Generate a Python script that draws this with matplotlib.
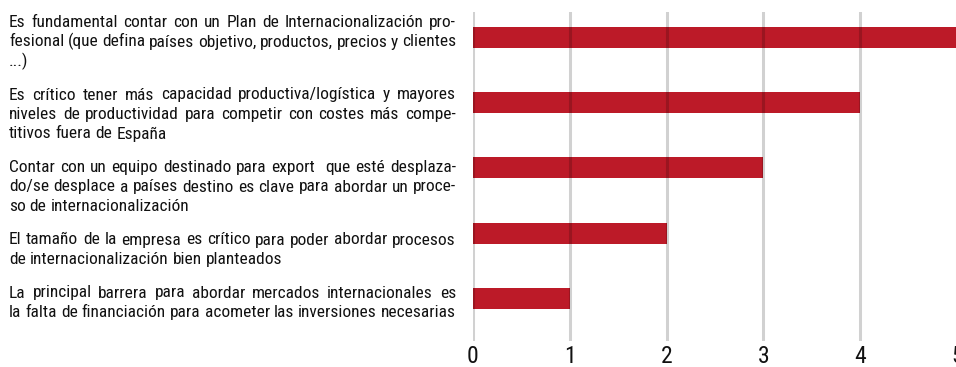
import matplotlib
matplotlib.use("Agg")
import matplotlib.pyplot as plt
from matplotlib import font_manager
from matplotlib.font_manager import FontProperties

# Statements (already broken into lines, hyphenated as printed) and their scores
statements = [
    ["Es fundamental contar con un Plan de Internacionalización pro-",
     "fesional (que defina países objetivo, productos, precios y clientes",
     "...)"],
    ["Es crítico tener más capacidad productiva/logística y mayores",
     "niveles de productividad para competir con costes más compe-",
     "titivos fuera de España"],
    ["Contar con un equipo destinado para export  que esté desplaza-",
     "do/se desplace a países destino es clave para abordar un proce-",
     "so de internacionalización"],
    ["El tamaño de la empresa es crítico para poder abordar procesos",
     "de internacionalización bien planteados"],
    ["La principal barrera para abordar mercados internacionales es",
     "la falta de financiación para acometer las inversiones necesarias"],
]
scores = [5, 4, 3, 2, 1]
x_ticks = [0, 1, 2, 3, 4, 5]

BAR_COLOR = "#BC1A28"
W, H = 956, 367

installed = {f.name for f in font_manager.fontManager.ttflist}
FONT = "DejaVu Sans"
for cand in ["Liberation Sans Narrow", "Roboto Condensed", "Arial Narrow", "Roboto"]:
    if cand in installed:
        FONT = cand
        break

fig = plt.figure(figsize=(W / 100, H / 100), dpi=100)
fig.patch.set_facecolor("white")

# plot area in pixels: left 473, right 957, top 12, bottom 341
ax = fig.add_axes([473 / W, (H - 341) / H, (957 - 473) / W, (341 - 12) / H])
ypos = list(range(len(scores)))
ax.barh(ypos, scores, height=0.32, color=BAR_COLOR, zorder=1)
ax.set_ylim(4.655, -0.39)
ax.set_xlim(0, 5)
ax.set_yticks([])
ax.set_xticks(x_ticks)
ax.set_xticklabels([str(t) for t in x_ticks], fontfamily=FONT, fontsize=17)
ax.tick_params(axis="x", length=0, pad=3, labelcolor="#111111")
ax.grid(axis="x", color="black", alpha=0.18, linewidth=2.2)
ax.set_axisbelow(False)
for s in ax.spines.values():
    s.set_visible(False)

# justified paragraph text on the left
renderer = fig.canvas.get_renderer()
prop = FontProperties(family=FONT, size=12.5)
space_w = None

left, right = 9.0, 456.0
line_step = 19.5
para_gap = 14.0
baseline = 27.0
for para in statements:
    for k, line in enumerate(para):
        y = (H - baseline) / H
        words = line.split(" ")
        texts = [fig.text(0, y, w, fontproperties=prop, color="#111111",
                          ha="left", va="baseline") for w in words]
        widths = [t.get_window_extent(renderer).width if w else 0.0
                  for t, w in zip(texts, words)]
        if space_w is None:
            probe = fig.text(0, 0, "a a", fontproperties=prop)
            probe2 = fig.text(0, 0, "aa", fontproperties=prop)
            space_w = (probe.get_window_extent(renderer).width
                       - probe2.get_window_extent(renderer).width)
            probe.remove()
            probe2.remove()
        last = k == len(para) - 1
        if last or len(words) == 1:
            gap = space_w
        else:
            gap = (right - left - sum(widths)) / (len(words) - 1)
        x = left
        for t, wd in zip(texts, widths):
            t.set_x(x / W)
            x += wd + gap
        baseline += line_step
    baseline += para_gap

fig.savefig("out.png", dpi=100, facecolor="white")
